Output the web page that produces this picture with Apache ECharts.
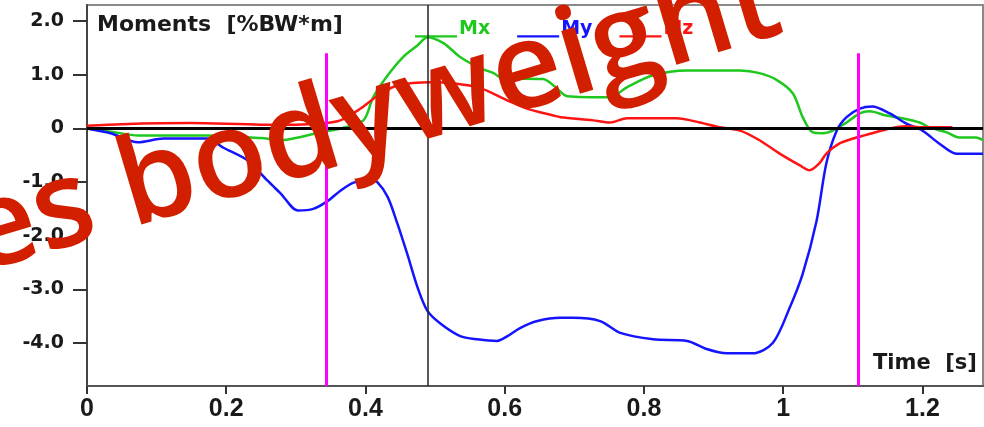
<!DOCTYPE html>
<html><head><meta charset="utf-8">
<script src="https://cdn.jsdelivr.net/npm/echarts@6/dist/echarts.min.js"></script>
<style>html,body{margin:0;padding:0;background:#fff}#c{width:984px;height:427px}</style>
</head><body><div id="c"></div>
<script>
// Time ticks and value ticks
const xTicks = [0, 0.2, 0.4, 0.6, 0.8, 1.0, 1.2];
const yTicks = [-4, -3, -2, -1, 0, 1, 2];

// Mx (green)
const mxT = [0, 0.039, 0.073, 0.173, 0.25, 0.278, 0.303, 0.335, 0.364, 0.397, 0.411, 0.432, 0.454, 0.475, 0.489, 0.512, 0.536, 0.565, 0.584, 0.598, 0.655, 0.672, 0.690, 0.751, 0.776, 0.813, 0.862, 0.938, 0.966, 0.991, 1.014, 1.028, 1.042, 1.057, 1.071, 1.091, 1.110, 1.124, 1.148, 1.171, 1.196, 1.210, 1.234, 1.253, 1.277, 1.287];
const mxV = [0, -0.07, -0.13, -0.13, -0.18, -0.22, -0.17, -0.07, 0.0, 0.15, 0.58, 0.99, 1.33, 1.55, 1.70, 1.59, 1.33, 1.12, 1.03, 0.93, 0.92, 0.78, 0.60, 0.58, 0.77, 0.99, 1.08, 1.08, 1.03, 0.90, 0.65, 0.21, -0.07, -0.09, -0.04, 0.11, 0.28, 0.32, 0.24, 0.19, 0.11, 0.02, -0.07, -0.17, -0.17, -0.22];

// My (blue)
const myT = [0, 0.034, 0.073, 0.110, 0.173, 0.196, 0.231, 0.259, 0.278, 0.303, 0.325, 0.346, 0.364, 0.383, 0.407, 0.417, 0.432, 0.446, 0.460, 0.475, 0.489, 0.508, 0.536, 0.561, 0.589, 0.604, 0.622, 0.647, 0.680, 0.698, 0.737, 0.766, 0.813, 0.862, 0.890, 0.919, 0.956, 0.985, 1.009, 1.028, 1.048, 1.062, 1.077, 1.091, 1.110, 1.128, 1.153, 1.177, 1.200, 1.224, 1.249, 1.287];
const myV = [0, -0.09, -0.26, -0.19, -0.19, -0.36, -0.60, -0.97, -1.21, -1.53, -1.50, -1.35, -1.16, -1.01, -0.95, -1.00, -1.28, -1.78, -2.34, -2.97, -3.40, -3.64, -3.87, -3.93, -3.96, -3.87, -3.72, -3.59, -3.53, -3.53, -3.59, -3.81, -3.93, -3.96, -4.11, -4.19, -4.19, -4.00, -3.35, -2.71, -1.72, -0.65, -0.04, 0.21, 0.37, 0.41, 0.28, 0.09, -0.04, -0.28, -0.47, -0.47];

// Mz (red)
const mzT = [0, 0.05, 0.15, 0.25, 0.30, 0.335, 0.364, 0.393, 0.422, 0.446, 0.493, 0.526, 0.565, 0.604, 0.632, 0.670, 0.680, 0.727, 0.751, 0.776, 0.847, 0.880, 0.909, 0.938, 0.966, 0.995, 1.024, 1.038, 1.052, 1.062, 1.081, 1.105, 1.128, 1.153, 1.177, 1.200, 1.243];
const mzV = [0.05, 0.08, 0.10, 0.07, 0.07, 0.09, 0.15, 0.37, 0.65, 0.80, 0.86, 0.84, 0.75, 0.52, 0.37, 0.24, 0.21, 0.15, 0.11, 0.19, 0.19, 0.11, 0.02, -0.04, -0.22, -0.47, -0.69, -0.78, -0.65, -0.47, -0.28, -0.17, -0.09, 0.0, 0.04, 0.02, 0.02];

// Event markers
const eventT = [0.343, 1.108];
const eventTop = 1.4;
const cursorT = 0.489;

const zip = (t, v) => t.map((x, i) => [x, v[i]]);
const cGreen = '#1ec81e', cBlue = '#1414ff', cRed = '#ff1414';
const lineIcon = 'path://M0,0M0,13h40v2h-40z';

const chart = echarts.init(document.getElementById('c'));
chart.setOption({
  backgroundColor: '#fff',
  animation: false,
  grid: { left: 87, right: 1, top: 5, bottom: 41, show: true, borderColor: '#8a8a8a', borderWidth: 2, backgroundColor: '#fff' },
  legend: {
    left: 410, top: 15, itemWidth: 42, itemHeight: 22, itemGap: 27,
    icon: lineIcon,
    textStyle: { fontFamily: 'DejaVu Sans', fontWeight: 'bold', fontSize: 19, padding: [0,0,0,-3] },
    data: [
      { name: 'Mx', textStyle: { color: cGreen } },
      { name: 'My', textStyle: { color: cBlue } },
      { name: 'Mz', textStyle: { color: cRed } }
    ]
  },
  xAxis: {
    type: 'value', min: 0, max: 1.287,
    axisLine: { show: true, onZero: false, lineStyle: { color: '#555', width: 2 } },
    axisTick: { show: true, length: 8, lineStyle: { color: '#333', width: 2 }, customValues: xTicks },
    axisLabel: { customValues: xTicks, formatter: v => String(v), color: '#1a1a1a', fontFamily: 'Liberation Sans Narrow, Liberation Sans', fontWeight: 'bold', fontSize: 25, margin: 11 },
    splitLine: { show: false }
  },
  yAxis: {
    type: 'value', min: -4.8, max: 2.3,
    axisLine: { show: true, onZero: false, lineStyle: { color: '#444', width: 2 } },
    axisTick: { show: true, length: 14, lineStyle: { color: '#333', width: 2 }, customValues: yTicks },
    axisLabel: { customValues: yTicks, formatter: v => v === 0 ? '0' : v.toFixed(1), color: '#1a1a1a', fontFamily: 'DejaVu Sans', fontWeight: 'bold', fontSize: 19, margin: 23 },
    splitLine: { show: false }
  },
  series: [
    {
      name: 'Zero', type: 'line', data: [], silent: true,
      markLine: {
        symbol: 'none', silent: true, label: { show: false },
        data: [
          { yAxis: 0, lineStyle: { color: '#000', width: 3, type: 'solid' } },
          { xAxis: cursorT, lineStyle: { color: '#222', width: 1.5, type: 'solid' } },
          [{ coord: [eventT[0], eventTop] }, { coord: [eventT[0], -4.8] }],
          [{ coord: [eventT[1], eventTop] }, { coord: [eventT[1], -4.8] }]
        ],
        lineStyle: { color: '#ff00ff', width: 3, type: 'solid' }
      }
    },
    { name: 'Mx', type: 'line', data: zip(mxT, mxV), showSymbol: false, smooth: 0.3, lineStyle: { color: cGreen, width: 2.5 }, itemStyle: { color: cGreen } },
    { name: 'My', type: 'line', data: zip(myT, myV), showSymbol: false, smooth: 0.3, lineStyle: { color: cBlue, width: 2.5 }, itemStyle: { color: cBlue } },
    { name: 'Mz', type: 'line', data: zip(mzT, mzV), showSymbol: false, smooth: 0.3, lineStyle: { color: cRed, width: 2.5 }, itemStyle: { color: cRed } }
  ],
  graphic: [
    { type: 'text', left: 97, top: 14, z: 100, style: { text: 'Moments  [%BW*m]', fontFamily: 'DejaVu Sans', fontWeight: 'bold', fontSize: 22, fill: '#1a1a1a' } },
    { type: 'text', left: 873, top: 353, z: 100, style: { text: 'Time  [s]', fontFamily: 'DejaVu Sans', fontWeight: 'bold', fontSize: 21, fill: '#1a1a1a' } },
    { type: 'text', x: -14, y: 298, rotation: 0.29, z: 200,
      style: { text: 'es bodyweight', fontFamily: 'Open Sans', fontWeight: 600, fontSize: 121, fill: '#d21f00', verticalAlign: 'bottom', align: 'left',
               textShadowColor: '#7a0c00', textShadowOffsetX: 3, textShadowOffsetY: 4, textShadowBlur: 0 } }
  ]
});
</script></body></html>
